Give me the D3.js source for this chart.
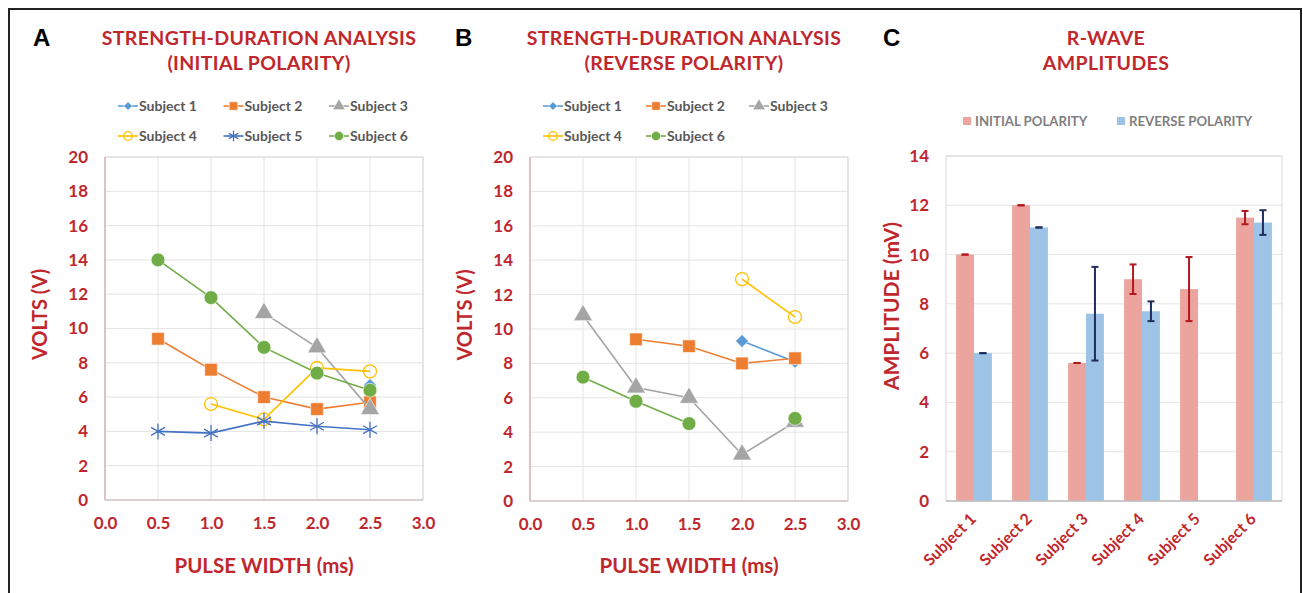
<!DOCTYPE html>
<html lang="en">
<head>
<meta charset="utf-8">
<title>Strength-duration and R-wave amplitudes</title>
<script src="https://cdn.jsdelivr.net/npm/d3@7"></script>
<style>
  body { margin: 0; background: #fff; }
  svg text { font-family: Lato, "Open Sans", sans-serif; }
</style>
</head>
<body>
<div id="chart"></div>
<script>
// ---- data ----
var pulseWidths = [0.5, 1.0, 1.5, 2.0, 2.5];
var subjects = ["Subject 1", "Subject 2", "Subject 3", "Subject 4", "Subject 5", "Subject 6"];

// panel A, initial polarity (volts at each pulse width, null = not measured)
var initS1 = [null, null, null, null, 6.7];
var initS2 = [9.4, 7.6, 6.0, 5.3, 5.7];
var initS3 = [null, null, 10.9, 8.9, 5.3];
var initS4 = [null, 5.6, 4.7, 7.7, 7.5];
var initS5 = [4.0, 3.9, 4.6, 4.3, 4.1];
var initS6 = [14.0, 11.8, 8.9, 7.4, 6.4];

// panel B, reverse polarity
var revS1 = [null, null, null, 9.3, 8.1];
var revS2 = [null, 9.4, 9.0, 8.0, 8.3];
var revS3 = [10.8, 6.6, 6.0, 2.7, 4.6];
var revS4 = [null, null, null, 12.9, 10.7];
var revS6 = [7.2, 5.8, 4.5, null, 4.8];

// panel C, R-wave amplitudes (mV) and error
var ampInitial = [10.0, 12.0, 5.6, 9.0, 8.6, 11.5];
var errInitial = [0, 0, 0, 0.6, 1.3, 0.27];
var ampReverse = [6.0, 11.1, 7.6, 7.7, null, 11.3];
var errReverse = [0, 0, 1.9, 0.4, null, 0.5];

var xTicks = [0, 0.5, 1.0, 1.5, 2.0, 2.5, 3.0];
var voltTicks = [0, 2, 4, 6, 8, 10, 12, 14, 16, 18, 20];
var ampTicks = [0, 2, 4, 6, 8, 10, 12, 14];

// ---- styles ----
var red = "#C0272D";
var gridCol = "#E4E4E4";
var colors = {
  "Subject 1": "#5B9BD5", "Subject 2": "#ED7D31", "Subject 3": "#A5A5A5",
  "Subject 4": "#FFC000", "Subject 5": "#4472C4", "Subject 6": "#70AD47"
};
var markers = {
  "Subject 1": { type: d3.symbolSquare, size: 85, rotate: 45 },
  "Subject 2": { type: d3.symbolSquare, size: 160 },
  "Subject 3": { type: d3.symbolTriangle, size: 155 },
  "Subject 4": { type: d3.symbolCircle, size: 130, open: true },
  "Subject 5": { type: d3.symbolAsterisk, size: 180, stroke: true },
  "Subject 6": { type: d3.symbolCircle, size: 150 }
};

var W = 1303, H = 593;
var svg = d3.select("#chart").append("svg")
  .attr("width", W).attr("height", H);

// outer frame
svg.append("rect")
  .attr("x", 9).attr("y", 9).attr("width", 1292).attr("height", 620)
  .attr("fill", "none").attr("stroke", "#222").attr("stroke-width", 2);

function drawMarker(g, name, size) {
  var m = markers[name];
  var p = g.append("path")
    .attr("d", d3.symbol().type(m.type).size(size || m.size)());
  if (m.rotate) p.attr("transform", "rotate(" + m.rotate + ")");
  if (m.open || m.stroke) {
    p.attr("fill", "none").attr("stroke", colors[name]).attr("stroke-width", 1.3);
  } else {
    p.attr("fill", colors[name]).attr("stroke", "#fff").attr("stroke-width", 0.6);
  }
  return p;
}

function panelLabel(txt, x) {
  svg.append("text").text(txt)
    .attr("x", x).attr("y", 46)
    .style("font-family", "Liberation Sans, Arial, sans-serif")
    .attr("font-size", 24).attr("font-weight", "bold").attr("fill", "#000");
}

function title(lines, cx) {
  lines.forEach(function(l, i) {
    svg.append("text").text(l)
      .attr("x", cx).attr("y", 45 + i * 25)
      .attr("text-anchor", "middle")
      .attr("font-size", 19.5).attr("font-weight", "bold")
      .attr("letter-spacing", 0.35)
      .attr("fill", red);
  });
}

function linePanel(opt) {
  var x = d3.scaleLinear().domain([0, 3]).range([opt.x0, opt.x1]);
  var y = d3.scaleLinear().domain([0, 20]).range([opt.y0, opt.y1]);
  var g = svg.append("g");

  // grid
  g.selectAll(".vg").data(xTicks).enter().append("line")
    .attr("x1", d => x(d)).attr("x2", d => x(d))
    .attr("y1", y(0)).attr("y2", y(20))
    .attr("stroke", gridCol).attr("stroke-width", 1);
  g.selectAll(".hg").data(voltTicks).enter().append("line")
    .attr("x1", x(0)).attr("x2", x(3))
    .attr("y1", d => y(d)).attr("y2", d => y(d))
    .attr("stroke", gridCol).attr("stroke-width", 1);
  g.append("rect")
    .attr("x", x(0)).attr("y", y(20))
    .attr("width", x(3) - x(0)).attr("height", y(0) - y(20))
    .attr("fill", "none").attr("stroke", "#D9D9D9");
  g.append("line")
    .attr("x1", x(0)).attr("x2", x(0)).attr("y1", y(0)).attr("y2", y(20))
    .attr("stroke", "#D8B8B8").attr("stroke-width", 1.5);
  g.append("line")
    .attr("x1", x(0)).attr("x2", x(3)).attr("y1", y(0)).attr("y2", y(0))
    .attr("stroke", "#D5C8C8").attr("stroke-width", 1.5);

  // axes
  var ax = g.append("g").attr("transform", "translate(0," + y(0) + ")")
    .call(d3.axisBottom(x).tickValues(xTicks).tickFormat(d3.format(".1f")).tickSize(0).tickPadding(17));
  var ay = g.append("g").attr("transform", "translate(" + x(0) + ",0)")
    .call(d3.axisLeft(y).tickValues(voltTicks).tickSize(0).tickPadding(17));
  [ax, ay].forEach(function(a) {
    a.select(".domain").remove();
    a.selectAll("text").attr("fill", red).attr("font-size", 17)
      .attr("font-weight", "bold").style("font-family", "Lato, sans-serif");
  });

  // axis titles
  g.append("text").text("PULSE WIDTH (ms)")
    .attr("x", x(1.5)).attr("y", 573).attr("text-anchor", "middle")
    .attr("font-size", 20.5).attr("font-weight", "bold").attr("fill", red);
  g.append("text").text("VOLTS (V)")
    .attr("transform", "translate(" + (opt.x0 - 58) + "," + ((opt.y0 + opt.y1) / 2 - 14) + ") rotate(-90)")
    .attr("text-anchor", "middle")
    .attr("font-size", 20).attr("font-weight", "bold").attr("fill", red);

  // series
  var line = d3.line()
    .defined(d => d.v != null)
    .x(d => x(d.x)).y(d => y(d.v));
  opt.series.forEach(function(s) {
    var pts = pulseWidths.map((p, i) => ({ x: p, v: s.values[i] }));
    g.append("path").datum(pts)
      .attr("d", line).attr("fill", "none")
      .attr("stroke", colors[s.name]).attr("stroke-width", 1.6);
    pts.filter(d => d.v != null).forEach(function(d) {
      var mg = g.append("g").attr("transform", "translate(" + x(d.x) + "," + y(d.v) + ")");
      drawMarker(mg, s.name);
    });
  });

  // legend
  opt.series.forEach(function(s, i) {
    var col = i % 3, row = Math.floor(i / 3);
    var lx = opt.legX + col * opt.legStep, ly = 106 + row * 30;
    var lg = g.append("g").attr("transform", "translate(" + lx + "," + ly + ")");
    lg.append("line").attr("x1", 0).attr("x2", 20).attr("y1", 0).attr("y2", 0)
      .attr("stroke", colors[s.name]).attr("stroke-width", 1.6);
    var mg = lg.append("g").attr("transform", "translate(10,0)");
    drawMarker(mg, s.name, markers[s.name].size * 0.45);
    lg.append("text").text(s.name)
      .attr("x", 21).attr("y", 5)
      .attr("font-size", 14).attr("font-weight", "bold").attr("fill", "#595959");
  });
}

// ---- panel A ----
panelLabel("A", 33);
title(["STRENGTH-DURATION ANALYSIS", "(INITIAL POLARITY)"], 259);
linePanel({
  x0: 105, x1: 423, y0: 500, y1: 157, legX: 118, legStep: 105.5,
  series: [
    { name: "Subject 1", values: initS1 },
    { name: "Subject 2", values: initS2 },
    { name: "Subject 3", values: initS3 },
    { name: "Subject 4", values: initS4 },
    { name: "Subject 5", values: initS5 },
    { name: "Subject 6", values: initS6 }
  ]
});

// ---- panel B ----
panelLabel("B", 455);
title(["STRENGTH-DURATION ANALYSIS", "(REVERSE POLARITY)"], 684);
linePanel({
  x0: 530, x1: 848, y0: 501, y1: 157, legX: 543, legStep: 103,
  series: [
    { name: "Subject 1", values: revS1 },
    { name: "Subject 2", values: revS2 },
    { name: "Subject 3", values: revS3 },
    { name: "Subject 4", values: revS4 },
    { name: "Subject 6", values: revS6 }
  ]
});

// ---- panel C ----
panelLabel("C", 883);
title(["R-WAVE", "AMPLITUDES"], 1106);
(function() {
  var x = d3.scaleBand().domain(subjects).range([946, 1282]).paddingInner(0.36).paddingOuter(0.18);
  var xs = d3.scaleBand().domain(["init", "rev"]).range([0, x.bandwidth()]);
  var y = d3.scaleLinear().domain([0, 14]).range([501, 156]);
  var g = svg.append("g");

  g.selectAll(".hg").data(ampTicks).enter().append("line")
    .attr("x1", 946).attr("x2", 1282)
    .attr("y1", d => y(d)).attr("y2", d => y(d))
    .attr("stroke", gridCol);
  g.append("rect").attr("x", 946).attr("y", y(14))
    .attr("width", 336).attr("height", y(0) - y(14))
    .attr("fill", "none").attr("stroke", "#D9D9D9");

  var ay = g.append("g").attr("transform", "translate(946,0)")
    .call(d3.axisLeft(y).tickValues(ampTicks).tickSize(0).tickPadding(17));
  ay.select(".domain").remove();
  ay.selectAll("text").attr("fill", red).attr("font-size", 17).attr("font-weight", "bold");

  var bars = [
    { key: "init", vals: ampInitial, errs: errInitial, fill: "#EBA59E", ec: "#B5171E" },
    { key: "rev", vals: ampReverse, errs: errReverse, fill: "#9DC3E6", ec: "#1F2D5C" }
  ];
  bars.forEach(function(b) {
    subjects.forEach(function(s, i) {
      var v = b.vals[i];
      if (v == null) return;
      var bx = x(s) + xs(b.key);
      g.append("rect").attr("x", bx).attr("y", y(v))
        .attr("width", xs.bandwidth()).attr("height", y(0) - y(v))
        .attr("fill", b.fill);
    });
  });
  g.append("line").attr("x1", 946).attr("x2", 1282).attr("y1", y(0)).attr("y2", y(0))
    .attr("stroke", "#BFBFBF").attr("stroke-width", 1.5);
  bars.forEach(function(b) {
    subjects.forEach(function(s, i) {
      var v = b.vals[i];
      if (v == null) return;
      var cx = x(s) + xs(b.key) + xs.bandwidth() / 2;
      var e = b.errs[i];
      var eg = g.append("g").attr("stroke", b.ec).attr("stroke-width", 2);
      eg.append("line").attr("x1", cx).attr("x2", cx).attr("y1", y(v - e)).attr("y2", y(v + e));
      eg.append("line").attr("x1", cx - 3.5).attr("x2", cx + 3.5).attr("y1", y(v + e)).attr("y2", y(v + e));
      eg.append("line").attr("x1", cx - 3.5).attr("x2", cx + 3.5).attr("y1", y(v - e)).attr("y2", y(v - e));
    });
  });

  // x labels
  subjects.forEach(function(s) {
    g.append("text").text(s)
      .attr("transform", "translate(" + (x(s) + x.bandwidth() / 2 + 3) + ",520) rotate(-45)")
      .attr("text-anchor", "end")
      .attr("font-size", 16).attr("font-weight", "bold").attr("fill", red);
  });

  g.append("text").text("AMPLITUDE (mV)")
    .attr("transform", "translate(899,306) rotate(-90)")
    .attr("text-anchor", "middle")
    .attr("font-size", 21).attr("font-weight", "bold").attr("fill", red);

  // legend
  var leg = [
    { label: "INITIAL POLARITY", fill: "#EBA59E", x: 963 },
    { label: "REVERSE POLARITY", fill: "#9DC3E6", x: 1117 }
  ];
  leg.forEach(function(l) {
    g.append("rect").attr("x", l.x).attr("y", 117).attr("width", 8).attr("height", 8).attr("fill", l.fill);
    g.append("text").text(l.label).attr("x", l.x + 12).attr("y", 126)
      .attr("font-size", 13.2).attr("font-weight", "bold").attr("fill", "#7F7F7F");
  });
})();
</script>
</body>
</html>
